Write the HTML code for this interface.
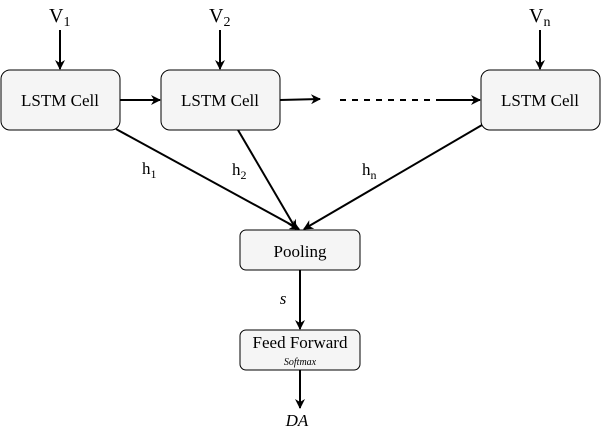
<!DOCTYPE html>
<html><head><style>body{margin:0;background:#fff} svg text{font-family:"Liberation Serif","Times New Roman",serif}</style></head><body>
<svg width="601" height="431" xmlns="http://www.w3.org/2000/svg">
<defs><marker id="a" markerWidth="10" markerHeight="10" refX="9" refY="5" orient="auto" markerUnits="userSpaceOnUse"><path d="M0,0 L10,5 L0,10 L3,5z" fill="#000"/></marker></defs>
<g fill="#f5f5f5" stroke="#000" stroke-width="1">
<rect x="1" y="70" width="119" height="60" rx="9"/>
<rect x="161" y="70" width="119" height="60" rx="9"/>
<rect x="481" y="70" width="119" height="60" rx="9"/>
<rect x="240" y="230" width="120" height="40" rx="6"/>
<rect x="240" y="330" width="120" height="40" rx="6"/>
</g>
<g stroke="#000" stroke-width="2" fill="none" marker-end="url(#a)">
<line x1="60" y1="30" x2="60" y2="69"/>
<line x1="220" y1="30" x2="220" y2="69"/>
<line x1="540" y1="30" x2="540" y2="69"/>
<line x1="120" y1="100" x2="160" y2="100"/>
<line x1="280" y1="100" x2="320" y2="99"/>
<line x1="440" y1="100" x2="480" y2="100"/>
<line x1="116" y1="129" x2="299" y2="229"/>
<line x1="238" y1="130" x2="296" y2="229"/>
<line x1="482" y1="125" x2="304" y2="229"/>
<line x1="300" y1="270" x2="300" y2="329"/>
<line x1="300" y1="370" x2="300" y2="408"/>
</g>
<line x1="340" y1="100" x2="440" y2="100" stroke="#000" stroke-width="2" stroke-dasharray="6,6"/>
<g font-size="17" text-anchor="middle" fill="#000">
<text x="60" y="106">LSTM Cell</text>
<text x="220" y="106">LSTM Cell</text>
<text x="540" y="106">LSTM Cell</text>
<text x="300" y="257">Pooling</text>
<text x="300" y="348">Feed Forward</text>
<text x="300" y="365" font-size="10" font-style="italic">Softmax</text>
<text x="297" y="426" font-style="italic">DA</text>
<text x="283" y="304" font-style="italic">s</text>
</g>
<g font-size="20" fill="#000">
<text x="49" y="22">V<tspan font-size="14" dy="4">1</tspan></text>
<text x="209" y="22">V<tspan font-size="14" dy="4">2</tspan></text>
<text x="529" y="22">V<tspan font-size="14" dy="4">n</tspan></text>
<text x="142" y="174" font-size="17">h<tspan font-size="12" dy="4">1</tspan></text>
<text x="232" y="175" font-size="17">h<tspan font-size="12" dy="4">2</tspan></text>
<text x="362" y="175" font-size="17">h<tspan font-size="12" dy="4">n</tspan></text>
</g>
</svg>
</body></html>
